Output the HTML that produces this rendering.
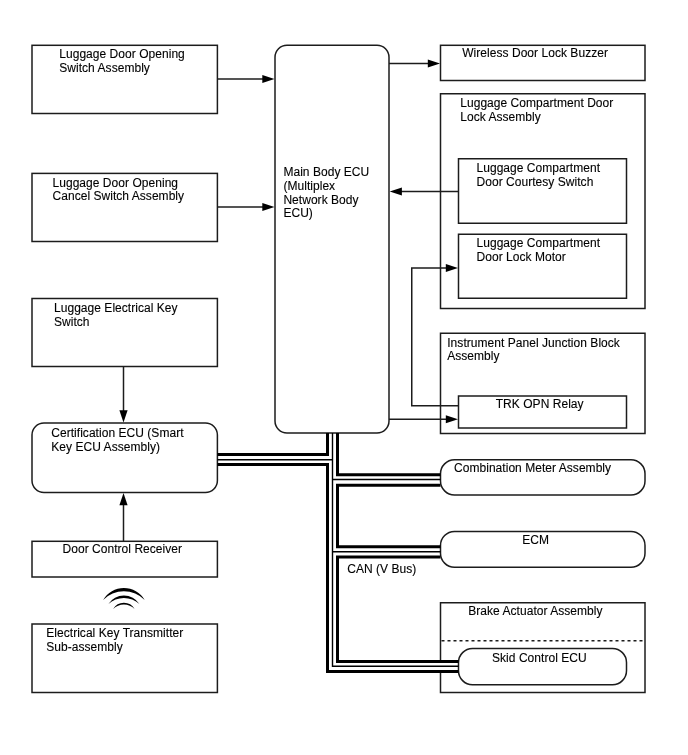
<!DOCTYPE html>
<html><head><meta charset="utf-8"><style>
html,body{margin:0;padding:0;background:#fff;width:688px;height:755px;overflow:hidden}
svg{display:block;will-change:transform}
text{font-family:"Liberation Sans",sans-serif;font-size:12px;fill:#000;stroke:#000;stroke-width:0.12px;letter-spacing:0.04px}
</style></head><body>
<svg width="688" height="755" viewBox="0 0 688 755">
<rect x="32" y="45.3" width="185.4" height="68.2" rx="0" ry="0" fill="none" stroke="#1c1c1c" stroke-width="1.5"/>
<text x="59.25" y="58.0">Luggage Door Opening</text>
<text x="59.25" y="71.75">Switch Assembly</text>
<rect x="32" y="173.4" width="185.4" height="68.1" rx="0" ry="0" fill="none" stroke="#1c1c1c" stroke-width="1.5"/>
<text x="52.5" y="186.5">Luggage Door Opening</text>
<text x="52.5" y="200.25">Cancel Switch Assembly</text>
<rect x="32" y="298.5" width="185.4" height="68.0" rx="0" ry="0" fill="none" stroke="#1c1c1c" stroke-width="1.5"/>
<text x="54" y="312.25">Luggage Electrical Key</text>
<text x="54" y="326.0">Switch</text>
<rect x="32" y="423" width="185.4" height="69.5" rx="12" ry="12" fill="none" stroke="#1c1c1c" stroke-width="1.5"/>
<text x="51.25" y="436.75">Certification ECU (Smart</text>
<text x="51.25" y="450.5">Key ECU Assembly)</text>
<rect x="32" y="541.3" width="185.4" height="35.7" rx="0" ry="0" fill="none" stroke="#1c1c1c" stroke-width="1.5"/>
<text x="62.5" y="552.5">Door Control Receiver</text>
<rect x="32" y="624" width="185.4" height="68.5" rx="0" ry="0" fill="none" stroke="#1c1c1c" stroke-width="1.5"/>
<text x="46.25" y="637.25">Electrical Key Transmitter</text>
<text x="46.25" y="651.0">Sub-assembly</text>
<rect x="275" y="45.3" width="114" height="387.7" rx="12" ry="12" fill="none" stroke="#1c1c1c" stroke-width="1.5"/>
<text x="283.4" y="175.75">Main Body ECU</text>
<text x="283.4" y="189.6">(Multiplex</text>
<text x="283.4" y="203.5">Network Body</text>
<text x="283.4" y="217">ECU)</text>
<rect x="440.5" y="45.3" width="204.5" height="35.2" rx="0" ry="0" fill="none" stroke="#1c1c1c" stroke-width="1.5"/>
<text x="462.25" y="57.0">Wireless Door Lock Buzzer</text>
<rect x="440.5" y="93.75" width="204.5" height="214.75" rx="0" ry="0" fill="none" stroke="#1c1c1c" stroke-width="1.5"/>
<text x="460.25" y="107.0">Luggage Compartment Door</text>
<text x="460.25" y="120.75">Lock Assembly</text>
<rect x="458.5" y="158.75" width="168.0" height="64.5" rx="0" ry="0" fill="none" stroke="#1c1c1c" stroke-width="1.5"/>
<text x="476.5" y="172.0">Luggage Compartment</text>
<text x="476.5" y="185.75">Door Courtesy Switch</text>
<rect x="458.5" y="234.25" width="168.0" height="64.0" rx="0" ry="0" fill="none" stroke="#1c1c1c" stroke-width="1.5"/>
<text x="476.5" y="247.0">Luggage Compartment</text>
<text x="476.5" y="260.75">Door Lock Motor</text>
<rect x="440.5" y="333.25" width="204.5" height="100.25" rx="0" ry="0" fill="none" stroke="#1c1c1c" stroke-width="1.5"/>
<text x="447.25" y="346.5">Instrument Panel Junction Block</text>
<text x="447.25" y="360.25">Assembly</text>
<rect x="458.5" y="396" width="168.0" height="32" rx="0" ry="0" fill="none" stroke="#1c1c1c" stroke-width="1.5"/>
<text x="495.75" y="408.0">TRK OPN Relay</text>
<rect x="440.5" y="459.8" width="204.5" height="35.2" rx="14" ry="14" fill="none" stroke="#1c1c1c" stroke-width="1.5"/>
<text x="454" y="471.75">Combination Meter Assembly</text>
<rect x="440.5" y="531.4" width="204.5" height="35.8" rx="14" ry="14" fill="none" stroke="#1c1c1c" stroke-width="1.5"/>
<text x="522.25" y="544.25">ECM</text>
<rect x="440.5" y="602.75" width="204.5" height="89.75" rx="0" ry="0" fill="none" stroke="#1c1c1c" stroke-width="1.5"/>
<line x1="441.5" y1="640.7" x2="645" y2="640.7" stroke="#1c1c1c" stroke-width="1.6" stroke-dasharray="3,3"/>
<text x="468.25" y="614.75">Brake Actuator Assembly</text>
<rect x="458.5" y="648.5" width="168.0" height="36.25" rx="14" ry="14" fill="none" stroke="#1c1c1c" stroke-width="1.5"/>
<text x="492" y="662.25">Skid Control ECU</text>
<text x="347.2" y="572.8">CAN (V Bus)</text>
<line x1="217.4" y1="79" x2="263" y2="79" stroke="#1c1c1c" stroke-width="1.5"/>
<polygon points="274.5,79 262.3,74.9 262.3,83.1" fill="#000"/>
<line x1="217.4" y1="207" x2="263" y2="207" stroke="#1c1c1c" stroke-width="1.5"/>
<polygon points="274.5,207 262.3,202.9 262.3,211.1" fill="#000"/>
<line x1="389" y1="63.5" x2="429" y2="63.5" stroke="#1c1c1c" stroke-width="1.5"/>
<polygon points="440,63.5 427.8,59.4 427.8,67.6" fill="#000"/>
<line x1="458.5" y1="191.5" x2="400" y2="191.5" stroke="#1c1c1c" stroke-width="1.5"/>
<polygon points="389.7,191.5 401.9,187.4 401.9,195.6" fill="#000"/>
<polyline points="458.5,405.75 411.75,405.75 411.75,268 447,268" fill="none" stroke="#1c1c1c" stroke-width="1.5"/>
<polygon points="458,268 445.8,263.9 445.8,272.1" fill="#000"/>
<line x1="389" y1="419.25" x2="447" y2="419.25" stroke="#1c1c1c" stroke-width="1.5"/>
<polygon points="458,419.25 445.8,415.15 445.8,423.35" fill="#000"/>
<line x1="123.5" y1="366.5" x2="123.5" y2="412" stroke="#1c1c1c" stroke-width="1.5"/>
<polygon points="123.5,422.5 119.4,410.3 127.6,410.3" fill="#000"/>
<line x1="123.5" y1="541" x2="123.5" y2="504" stroke="#1c1c1c" stroke-width="1.5"/>
<polygon points="123.5,493 119.4,505.2 127.6,505.2" fill="#000"/>
<rect x="438" y="663" width="18" height="7" fill="#fff"/>
<polyline points="217.4,454.5 327.5,454.5 327.5,433" fill="none" stroke="#000" stroke-width="3" stroke-linejoin="miter" stroke-linecap="butt"/>
<polyline points="217.4,464.5 327.5,464.5 327.5,671.5 458.5,671.5" fill="none" stroke="#000" stroke-width="3" stroke-linejoin="miter" stroke-linecap="butt"/>
<polyline points="337.5,433 337.5,474.8 440.5,474.8" fill="none" stroke="#000" stroke-width="3" stroke-linejoin="miter" stroke-linecap="butt"/>
<polyline points="440.5,485.2 337.5,485.2 337.5,546.7 440.5,546.7" fill="none" stroke="#000" stroke-width="3" stroke-linejoin="miter" stroke-linecap="butt"/>
<polyline points="440.5,556.9 337.5,556.9 337.5,661.5 458.5,661.5" fill="none" stroke="#000" stroke-width="3" stroke-linejoin="miter" stroke-linecap="butt"/>
<line x1="217.4" y1="459.7" x2="332.5" y2="459.7" stroke="#000" stroke-width="1.5"/>
<polyline points="332.5,433 332.5,666.2 458.5,666.2" fill="none" stroke="#000" stroke-width="1.4"/>
<line x1="332.5" y1="479.6" x2="440.5" y2="479.6" stroke="#000" stroke-width="1.5"/>
<line x1="332.5" y1="551.7" x2="440.5" y2="551.7" stroke="#000" stroke-width="1.5"/>
<path d="M103.10000000000001,600.0 A24.03,24.03 0 0 1 144.70000000000002,600.0 A29.21,29.21 0 0 0 103.10000000000001,600.0 Z" fill="#000"/>
<path d="M108.4,604.0 A18.50,18.50 0 0 1 139.4,604.0 A23.02,23.02 0 0 0 108.4,604.0 Z" fill="#000"/>
<path d="M113.2,609.0 A12.33,12.33 0 0 1 134.6,609.0 A14.97,14.97 0 0 0 113.2,609.0 Z" fill="#000"/>
</svg>
</body></html>
